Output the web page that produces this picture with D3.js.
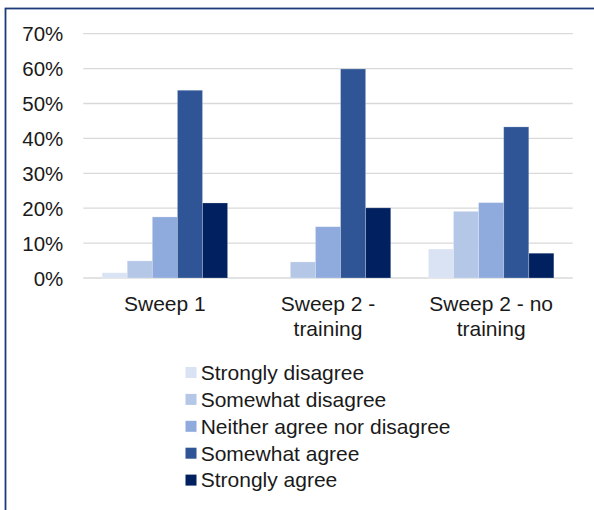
<!DOCTYPE html>
<html>
<head>
<meta charset="utf-8">
<script src="https://cdn.jsdelivr.net/npm/d3@7"></script>
<style>
  html, body { margin: 0; padding: 0; background: #fff; }
  svg { display: block; font-family: "Liberation Sans", Arial, sans-serif; }
</style>
</head>
<body>
<svg id="chart" width="594" height="510"></svg>
<script>
// Survey groups along the x axis
const categories = ["Sweep 1", "Sweep 2 - training", "Sweep 2 - no training"];
const categoryLines = [["Sweep 1"], ["Sweep 2 -", "training"], ["Sweep 2 - no", "training"]];

// Response options (one bar per option in each group)
const responses = ["Strongly disagree", "Somewhat disagree", "Neither agree nor disagree", "Somewhat agree", "Strongly agree"];
const colors = ["#DAE3F3", "#B4C7E7", "#8FAADC", "#2F5597", "#002060"];

// Share of respondents (%), per response option, in category order
const stronglyDisagree = [1.5, 0, 8.3];
const somewhatDisagree = [4.9, 4.6, 19.1];
const neither = [17.5, 14.7, 21.6];
const somewhatAgree = [53.8, 59.9, 43.3];
const stronglyAgree = [21.5, 20.1, 7.1];
const seriesValues = [stronglyDisagree, somewhatDisagree, neither, somewhatAgree, stronglyAgree];

const yTicks = [0, 10, 20, 30, 40, 50, 60, 70];

const textColor = "#1a1a1a";
const svg = d3.select("#chart");

// Outer frame
svg.append("rect")
  .attr("x", 5.5).attr("y", 8.5)
  .attr("width", 700).attr("height", 700)
  .attr("fill", "none")
  .attr("stroke", "#1F3A7A")
  .attr("stroke-width", 1.8);

const plot = { left: 83.3, right: 572.7, top: 33.7, bottom: 278 };

const x0 = d3.scaleBand()
  .domain(categories)
  .range([plot.left, plot.right])
  .paddingInner(0).paddingOuter(0);

// 5 bars + 1.5 bar gap per group
const barW = x0.bandwidth() / 6.5;
const x1 = d3.scaleBand()
  .domain(responses)
  .range([0.75 * barW, x0.bandwidth() - 0.75 * barW])
  .padding(0);

const y = d3.scaleLinear().domain([0, 70]).range([plot.bottom, plot.top]);

// Gridlines
svg.append("g")
  .selectAll("line")
  .data(yTicks)
  .join("line")
  .attr("x1", plot.left).attr("x2", plot.right)
  .attr("y1", d => y(d)).attr("y2", d => y(d))
  .attr("stroke", "#D9D9D9")
  .attr("stroke-width", 1.3);

// Y axis labels
const yAxis = d3.axisLeft(y)
  .tickValues(yTicks)
  .tickFormat(d => d + "%")
  .tickSize(0)
  .tickPadding(0);

svg.append("g")
  .attr("transform", `translate(${plot.left - 20},0)`)
  .call(yAxis)
  .call(g => g.select(".domain").remove())
  .call(g => g.selectAll("text")
    .attr("font-family", "Liberation Sans, Arial, sans-serif")
    .attr("font-size", 20.5)
    .attr("fill", textColor)
    .attr("dy", "0.35em"));

// Bars
const groups = svg.append("g")
  .selectAll("g")
  .data(categories)
  .join("g")
  .attr("transform", d => `translate(${x0(d)},0)`);

groups.selectAll("rect")
  .data((c, ci) => responses.map((r, ri) => ({ r, ri, v: seriesValues[ri][ci] })))
  .join("rect")
  .filter(d => d.v > 0)
  .attr("x", d => x1(d.r))
  .attr("y", d => y(d.v))
  .attr("width", x1.bandwidth())
  .attr("height", d => y(0) - y(d.v))
  .attr("fill", d => colors[d.ri])
  .attr("stroke", "rgba(255,255,255,0.3)")
  .attr("stroke-width", 0.8);

// Category labels
const catLabels = svg.append("g")
  .selectAll("text")
  .data(categories)
  .join("text")
  .attr("x", d => x0(d) + x0.bandwidth() / 2)
  .attr("y", 311)
  .attr("text-anchor", "middle")
  .attr("font-size", 21)
  .attr("fill", textColor);

catLabels.selectAll("tspan")
  .data((d, i) => categoryLines[i])
  .join("tspan")
  .attr("x", function() { return d3.select(this.parentNode).attr("x"); })
  .attr("dy", (d, i) => i === 0 ? 0 : 24.5)
  .text(d => d);

// Legend
const legend = svg.append("g")
  .selectAll("g")
  .data(responses)
  .join("g")
  .attr("transform", (d, i) => `translate(185.5,${372.5 + i * 26.9})`);

legend.append("rect")
  .attr("x", 0).attr("y", -5.5)
  .attr("width", 11).attr("height", 11)
  .attr("fill", (d, i) => colors[i]);

legend.append("text")
  .attr("x", 15.2)
  .attr("y", 0)
  .attr("dy", "0.35em")
  .attr("font-size", 21)
  .attr("fill", textColor)
  .text(d => d);
</script>
</body>
</html>
